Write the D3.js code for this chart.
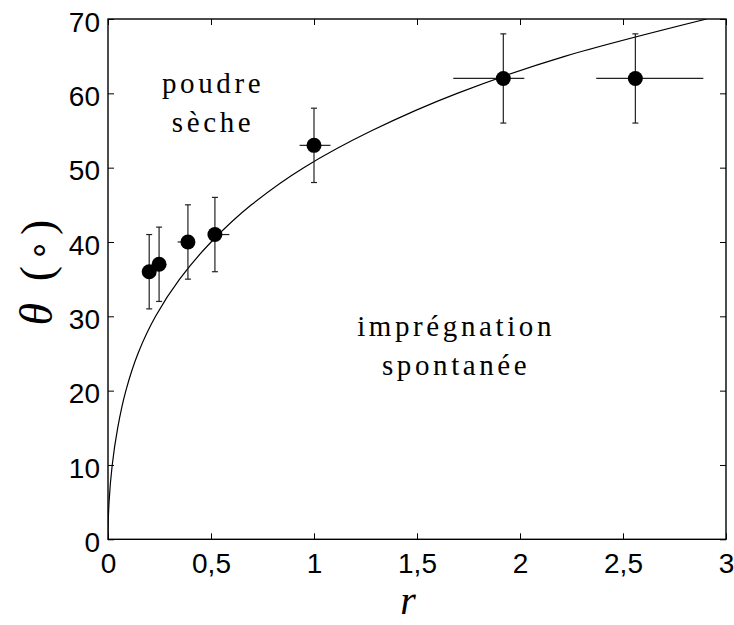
<!DOCTYPE html>
<html>
<head>
<meta charset="utf-8">
<script src="https://cdn.jsdelivr.net/npm/d3@7"></script>
<style>
  html, body { margin: 0; padding: 0; background: #fff; }
  svg { display: block; }
  .tick text { font-family: "Liberation Sans", Arial, sans-serif; font-size: 28px; fill: #000; }
  .note { font-family: "Liberation Serif", serif; font-size: 29px; fill: #000; letter-spacing: 3.6px; }
</style>
</head>
<body>
<script>
// ---- data ----
const rValues      = [0.20, 0.248, 0.388, 0.519, 1.00, 1.919, 2.56];
const thetaValues  = [36, 37, 40, 41, 53, 62, 62];
const thetaLow     = [31, 32, 35, 36, 48, 56, 56];
const thetaHigh    = [41, 42, 45, 46, 58, 68, 68];
const rErrLeft     = [0, 0, 0.05, 0.03, 0.07, 0.243, 0.19];
const rErrRight    = [0, 0, 0.03, 0.07, 0.08, 0.102, 0.33];

// model curve: r at each theta level
const curveTheta = [0, 2.5, 5, 10, 15, 20, 25, 30, 35, 40, 45, 50, 55, 60, 65, 70];
const curveR     = [0, 0.0013, 0.0051, 0.0205, 0.0471, 0.0868, 0.1456, 0.2309, 0.3477, 0.5007, 0.6961, 0.950, 1.2817, 1.695, 2.221, 2.906];

const xTicks = [0, 0.5, 1, 1.5, 2, 2.5, 3];
const xTickLabels = ["0", "0,5", "1", "1,5", "2", "2,5", "3"];
const yTicks = [0, 10, 20, 30, 40, 50, 60, 70];

const annotations = [
  { lines: ["poudre", "sèche"], r: 0.51, theta: 60.0 },
  { lines: ["imprégnation", "spontanée"], r: 1.69, theta: 27.4 }
];

// ---- layout ----
const W = 734, H = 625;
const L = 108, R = 726, T = 19, B = 539.3;

const svg = d3.select("body").append("svg").attr("width", W).attr("height", H);

const x = d3.scaleLinear().domain([0, 3]).range([L, R]);
const y = d3.scaleLinear().domain([0, 70]).range([B, T]);

// axes with inward ticks on all four sides
const fmtX = d => xTickLabels[xTicks.indexOf(d)];
const gB = svg.append("g").attr("transform", `translate(0,${B})`)
  .call(d3.axisBottom(x).tickValues(xTicks).tickFormat(fmtX).tickSizeInner(-6).tickSizeOuter(0).tickPadding(14));
const gL = svg.append("g").attr("transform", `translate(${L},0)`)
  .call(d3.axisLeft(y).tickValues(yTicks).tickSizeInner(-6).tickSizeOuter(0).tickPadding(8));
gL.selectAll(".tick text").attr("dy", "0.44em");
const gT = svg.append("g").attr("transform", `translate(0,${T})`)
  .call(d3.axisTop(x).tickValues(xTicks).tickFormat("").tickSizeInner(-6).tickSizeOuter(0));
const gR = svg.append("g").attr("transform", `translate(${R},0)`)
  .call(d3.axisRight(y).tickValues(yTicks).tickFormat("").tickSizeInner(-6).tickSizeOuter(0));
[gB, gL, gT, gR].forEach(g => {
  g.select(".domain").remove();
  g.selectAll(".tick line").attr("stroke", "#000").attr("stroke-width", 1);
});

// frame
svg.append("rect").attr("x", L).attr("y", T).attr("width", R - L).attr("height", B - T)
  .attr("fill", "none").attr("stroke", "#000").attr("stroke-width", 1.4);

// model curve
svg.append("clipPath").attr("id", "clip").append("rect")
  .attr("x", L).attr("y", T).attr("width", R - L).attr("height", B - T);
const curveData = curveR.map((r, i) => [r, curveTheta[i]]);
svg.append("path").datum(curveData)
  .attr("clip-path", "url(#clip)")
  .attr("fill", "none").attr("stroke", "#000").attr("stroke-width", 1.2)
  .attr("d", d3.line().x(d => x(d[0])).y(d => y(d[1])).curve(d3.curveMonotoneY));

// data points with error bars
const pts = rValues.map((r, i) => ({ r, t: thetaValues[i], lo: thetaLow[i], hi: thetaHigh[i], el: rErrLeft[i], er: rErrRight[i] }));
const eb = svg.append("g").attr("stroke", "#222").attr("stroke-width", 1.2);
const cap = 3;
pts.forEach(p => {
  eb.append("line").attr("x1", x(p.r)).attr("x2", x(p.r)).attr("y1", y(p.lo)).attr("y2", y(p.hi));
  eb.append("line").attr("x1", x(p.r) - cap).attr("x2", x(p.r) + cap).attr("y1", y(p.lo)).attr("y2", y(p.lo));
  eb.append("line").attr("x1", x(p.r) - cap).attr("x2", x(p.r) + cap).attr("y1", y(p.hi)).attr("y2", y(p.hi));
  if (p.el > 0 || p.er > 0) {
    eb.append("line").attr("x1", x(p.r - p.el)).attr("x2", x(p.r + p.er)).attr("y1", y(p.t)).attr("y2", y(p.t));
  }
});
svg.append("g").selectAll("circle").data(pts).join("circle")
  .attr("cx", d => x(d.r)).attr("cy", d => y(d.t)).attr("r", 7.5).attr("fill", "#000");

// annotations
annotations.forEach(a => {
  const t = svg.append("text").attr("class", "note").attr("text-anchor", "middle");
  a.lines.forEach((ln, i) => {
    t.append("tspan").attr("x", x(a.r)).attr("y", y(a.theta) + i * 39).text(ln);
  });
});

// axis labels
svg.append("text")
  .attr("x", 408).attr("y", 614)
  .attr("text-anchor", "middle")
  .style("font-family", "'Liberation Serif', serif")
  .style("font-style", "italic").style("font-size", "40px")
  .text("r");

const yl = svg.append("text")
  .attr("transform", `translate(52,270) rotate(-90)`)
  .attr("text-anchor", "middle")
  .style("font-family", "'Liberation Serif', serif")
  .style("font-size", "46px")
  .style("letter-spacing", "5px");
yl.append("tspan").style("font-style", "italic").text("θ");
yl.append("tspan").text(" (");
yl.append("tspan").attr("dy", "-0.06em").style("font-size", "34px").text("∘");
yl.append("tspan").attr("dy", "0.06em").text(")");
</script>
</body>
</html>
